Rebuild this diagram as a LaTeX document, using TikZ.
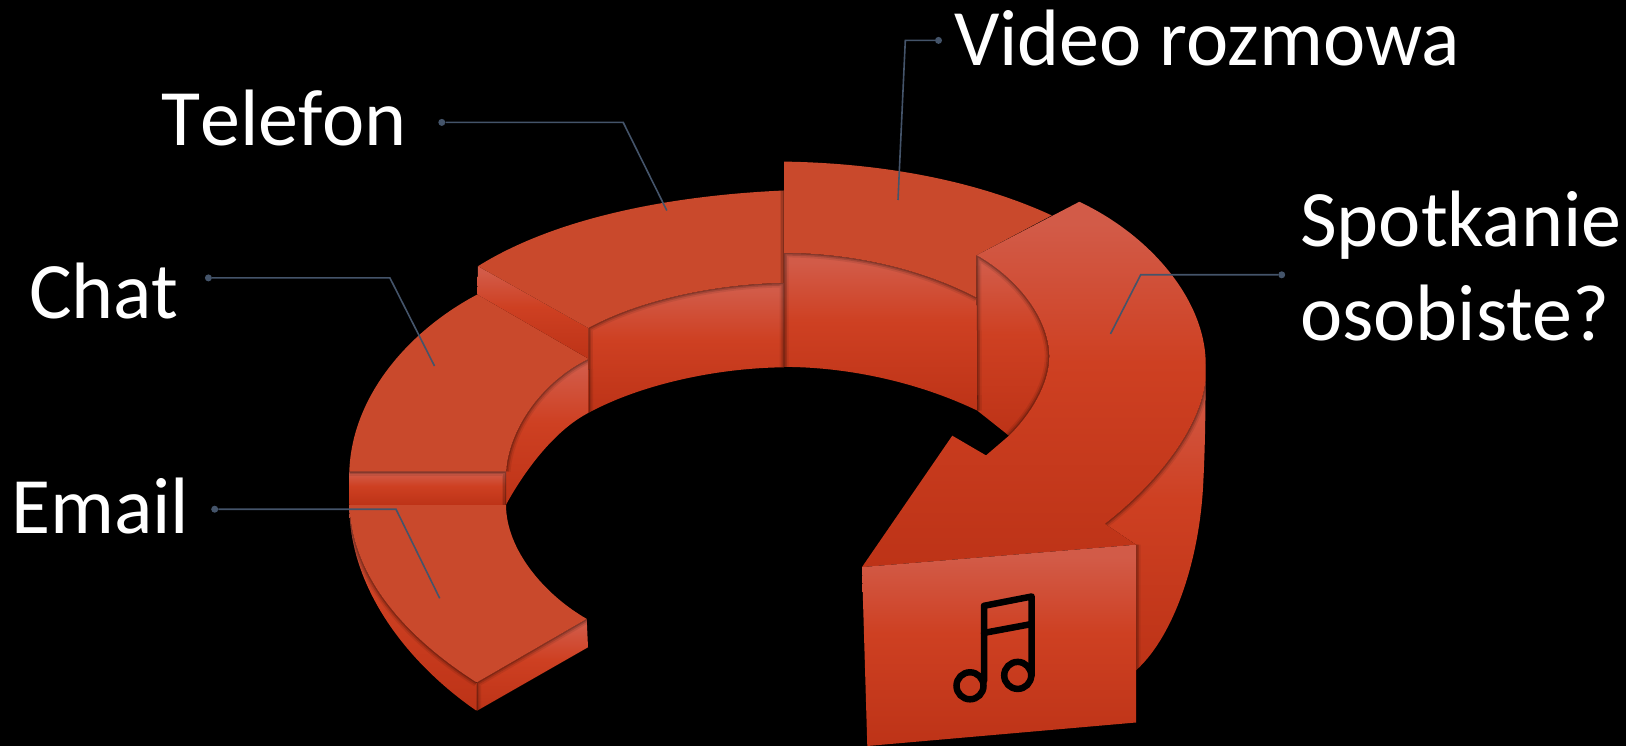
\documentclass[tikz,border=0pt]{standalone}
\usepackage{fontspec}
\setmainfont{Carlito}
\usepackage{tikz}
\definecolor{ringtop}{HTML}{C9492C}
\definecolor{ringlight}{HTML}{D25B48}
\definecolor{ringmid}{HTML}{CE4022}
\definecolor{ringdark}{HTML}{BD3317}
\definecolor{leadblue}{HTML}{44546A}
\pgfdeclareverticalshading{ringside}{100bp}{color(0bp)=(ringdark); color(25bp)=(ringdark); color(53bp)=(ringmid); color(72bp)=(ringlight); color(100bp)=(ringlight)}
\newcommand{\rimshadow}[2]{\begin{scope}\clip #1;\draw[rimwide] #2;\draw[rimmid] #2;\draw[rimthin] #2;\end{scope}}
\begin{document}
\begin{tikzpicture}[
  x=1pt,y=-1pt,
  flat/.style={fill=ringtop},
  side/.style={shading=ringside},
  rimwide/.style={draw=black,line width=9pt,opacity=.08},
  rimmid/.style={draw=black,line width=5.5pt,opacity=.14},
  rimthin/.style={draw=black,line width=2.5pt,opacity=.2},
  leader/.style={draw=leadblue,line width=1.6pt},
  leaddot/.style={circle,fill=leadblue,inner sep=0pt,minimum size=7pt},
  lbl/.style={text=white,inner sep=0pt,align=left,font=\fontsize{80}{94}\selectfont},
  musicline/.style={draw=black,line width=6.5pt,line join=round,line cap=round},
  notehead/.style={draw=black,line width=6.5pt,circle,inner sep=0pt,minimum size=27pt}
]
\fill[black] (0,0) rectangle (1626,746);
% email
\shade[side] (349.3,504.7) .. controls (349,590) and (410,665) .. (476.7,710.9) -- (476.7,682.5) .. controls (410,640) and (352,580) .. cycle;
\rimshadow{(349.3,504.7) .. controls (349,590) and (410,665) .. (476.7,710.9) -- (476.7,682.5) .. controls (410,640) and (352,580) .. cycle}{(476.7,682.5) .. controls (410,640) and (352,580) .. (349.3,504.7)}
\shade[side] (476.7,682.5) -- (586.7,618.9) -- (588,647.3) -- (476.7,710.9) -- cycle;
\rimshadow{(476.7,682.5) -- (586.7,618.9) -- (588,647.3) -- (476.7,710.9) -- cycle}{(476.7,710.9) -- (476.7,682.5) -- (586.7,618.9)}
\fill[flat] (349.3,504.7) -- (506,504.7) .. controls (506,550) and (545,595) .. (586.7,618.9) -- (476.7,682.5) .. controls (410,640) and (352,580) .. cycle;
% chat
\shade[side] (588.7,358.9) .. controls (545,380) and (510,425) .. (506,471.3) -- (506,504.7) .. controls (525,470) and (555,430) .. (588.7,412.7) -- cycle;
\rimshadow{(588.7,358.9) .. controls (545,380) and (510,425) .. (506,471.3) -- (506,504.7) .. controls (525,470) and (555,430) .. (588.7,412.7) -- cycle}{(588.7,358.9) .. controls (545,380) and (510,425) .. (506,471.3)}
\shade[side] (349.3,471.3) rectangle (506,504.7);
\rimshadow{(349.3,471.3) rectangle (506,504.7)}{(349.3,471.3) -- (506,471.3) -- (506,504.7)}
\fill[flat] (349.3,471.3) .. controls (352,395) and (410,330) .. (477.3,294.5) -- (588.7,358.9) .. controls (545,380) and (510,425) .. (506,471.3) -- cycle;
% telefon
\shade[side] (478,266.2) -- (588.3,328) -- (588.7,358.9) -- (477.3,294.5) -- cycle;
\shade[side] (588.3,328) .. controls (640,300) and (715,284) .. (784,282.9) -- (784,367.3) .. controls (715,368) and (640,385) .. (588.7,412.7) -- cycle;
\rimshadow{(588.3,328) .. controls (640,300) and (715,284) .. (784,282.9) -- (784,367.3) .. controls (715,368) and (640,385) .. (588.7,412.7) -- cycle}{(784,367.3) -- (784,282.9) .. controls (715,284) and (640,300) .. (588.3,328) -- (588.7,412.7)}
\fill[flat] (478,266.2) .. controls (560,215) and (680,195) .. (784,190.5) -- (784,282.9) .. controls (715,284) and (640,300) .. (588.3,328) -- cycle;
\rimshadow{(478,266.2) .. controls (560,215) and (680,195) .. (784,190.5) -- (784,282.9) .. controls (715,284) and (640,300) .. (588.3,328) -- cycle}{(784,190.5) -- (784,282.9)}
% video
\shade[side] (784,252.9) .. controls (850,253) and (920,268) .. (976.7,297.7) -- (977.3,410.6) .. controls (920,383) and (850,367) .. (784,366.9) -- cycle;
\rimshadow{(784,252.9) .. controls (850,253) and (920,268) .. (976.7,297.7) -- (977.3,410.6) .. controls (920,383) and (850,367) .. (784,366.9) -- cycle}{(784,366.9) -- (784,252.9) .. controls (850,253) and (920,268) .. (976.7,297.7)}
\fill[flat] (784,161.6) .. controls (880,163) and (975,180) .. (1051.7,215.4) -- (976.7,255.2) -- (976.7,297.7) .. controls (920,268) and (850,253) .. (784,252.9) -- cycle;
% spotkanie
\shade[side] (976.7,255.2) .. controls (1020,280) and (1049,320) .. (1049.3,356.5) .. controls (1049,385) and (1030,415) .. (1009,435.7) -- (977.3,410.6) -- cycle;
\rimshadow{(976.7,255.2) .. controls (1020,280) and (1049,320) .. (1049.3,356.5) .. controls (1049,385) and (1030,415) .. (1009,435.7) -- (977.3,410.6) -- cycle}{(977.3,410.6) -- (976.7,255.2) .. controls (1020,280) and (1049,320) .. (1049.3,356.5) .. controls (1049,385) and (1030,415) .. (1009,435.7)}
\shade[side] (1205.7,364.2) .. controls (1205.5,420) and (1205,450) .. (1203,488) .. controls (1198,570) and (1170,640) .. (1136,670.3) -- (1136,544.7) -- (1105,523.8) .. controls (1155,485) and (1200,430) .. (1205.7,379.7) -- cycle;
\rimshadow{(1205.7,364.2) .. controls (1205.5,420) and (1205,450) .. (1203,488) .. controls (1198,570) and (1170,640) .. (1136,670.3) -- (1136,544.7) -- (1105,523.8) .. controls (1155,485) and (1200,430) .. (1205.7,379.7) -- cycle}{(1136,670.3) -- (1136,544.7) (1105,523.8) .. controls (1155,485) and (1200,430) .. (1205.7,379.7)}
\shade[side] (976.7,255.2) -- (1079.3,201.8) .. controls (1150,235) and (1205.7,300) .. (1205.7,364.2) -- (1205.7,379.7) .. controls (1200,430) and (1155,485) .. (1105,523.8) -- (1136,544.7) -- (862,567.1) -- (952.3,435.7) -- (986,455.4) -- (1009,435.7) .. controls (1030,415) and (1049,385) .. (1049.3,356.5) .. controls (1049,320) and (1020,280) .. cycle;
\shade[side] (862,567.1) -- (1136,544.7) -- (1136,722.5) -- (867.3,746) -- cycle;
% note icon
\draw[musicline] (984,681) -- (984,605.8) -- (1031.7,596.5) -- (1031.7,675.4);
\draw[musicline] (984,632.9) -- (1031.7,624);
\node[notehead] (noteleft) at (970,685.8) {};
\node[notehead] (noteright) at (1017.7,675.4) {};
% labels
\node[lbl,anchor=base west] (video) at (954,66) {Video rozmowa};
\node[lbl,anchor=base west] (telefon) at (161,146) {\addfontfeature{Kerning=Off}Telefon};
\node[lbl,anchor=base west] (chat) at (29,318) {Chat};
\node[lbl,anchor=base west] (email) at (11,533) {Email};
\node[lbl,anchor=west] (spotkanie) at (1300,266) {Spotkanie\\osobiste?};
% leaders
\node[leaddot] (dotvideo) at (938.5,40.4) {};
\node[leaddot] (dottelefon) at (441.8,122.4) {};
\node[leaddot] (dotchat) at (208.4,277.9) {};
\node[leaddot] (dotemail) at (214.7,509.2) {};
\node[leaddot] (dotspotkanie) at (1281.7,274.8) {};
\coordinate (endvideo) at (898,200);
\coordinate (endtelefon) at (666.8,210.5);
\coordinate (endchat) at (434.5,366);
\coordinate (endemail) at (439.7,598.3);
\coordinate (endspotkanie) at (1110.5,333.9);
\draw[leader] (dotvideo) -- (905.3,40.4) -- (endvideo);
\draw[leader] (dottelefon) -- (623.2,122.4) -- (endtelefon);
\draw[leader] (dotchat) -- (389.9,277.9) -- (endchat);
\draw[leader] (dotemail) -- (396,509.2) -- (endemail);
\draw[leader] (dotspotkanie) -- (1140.7,274.8) -- (endspotkanie);
\end{tikzpicture}
\end{document}
